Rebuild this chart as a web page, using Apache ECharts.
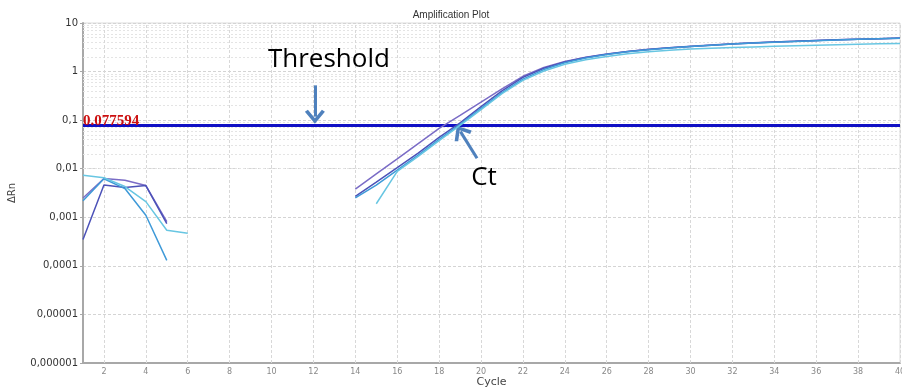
<!DOCTYPE html>
<html><head><meta charset="utf-8">
<script src="https://cdn.jsdelivr.net/npm/echarts@6/dist/echarts.min.js"></script>
<style>html,body{margin:0;padding:0;background:#fff}#c{width:902px;height:387px}</style>
</head><body><div id="c"></div>
<script>
const cycles = [1,2,3,4,5,6,7,8,9,10,11,12,13,14,15,16,17,18,19,20,21,22,23,24,25,26,27,28,29,30,31,32,33,34,35,36,37,38,39,40];
const wellA = [0.0025,0.0063,0.0058,0.0045,0.00081,null,null,null,null,null,null,null,null,0.0038,0.0078,0.016,0.033,0.068,0.125,0.235,0.44,0.80,1.22,1.62,1.98,2.3,2.6,2.87,3.1,3.32,3.52,3.72,3.9,4.06,4.2,4.35,4.5,4.63,4.76,4.88];
const wellB = [0.00035,0.0046,0.0041,0.0045,0.00074,null,null,null,null,null,null,null,null,0.0027,0.0053,0.0105,0.021,0.044,0.088,0.19,0.4,0.76,1.17,1.58,1.95,2.28,2.58,2.85,3.08,3.3,3.5,3.7,3.88,4.05,4.2,4.35,4.5,4.63,4.76,4.9];
const wellC = [0.0022,0.0062,0.0039,0.0011,0.00013,null,null,null,null,null,null,null,null,0.0025,0.0046,0.0094,0.019,0.04,0.082,0.175,0.37,0.7,1.1,1.52,1.9,2.24,2.55,2.82,3.06,3.28,3.48,3.68,3.86,4.03,4.18,4.33,4.48,4.62,4.75,4.88];
const wellD = [0.0073,0.0065,0.0043,0.0021,0.00054,0.00047,null,null,null,null,null,null,null,null,0.0019,0.0088,0.018,0.038,0.078,0.165,0.35,0.66,1.03,1.42,1.75,2.05,2.33,2.57,2.75,2.9,3.02,3.12,3.22,3.31,3.4,3.48,3.56,3.64,3.72,3.8];
const threshold = 0.077594;
const xTicks = [2,4,6,8,10,12,14,16,18,20,22,24,26,28,30,32,34,36,38,40];
const yTickLabels = ['0,000001','0,00001','0,0001','0,001','0,01','0,1','1','10'];
const thresholdArrow = [[12.07,0.52],[12.07,0.118]];
const ctArrow = [[19.81,0.0164],[19.02,0.058]];
const thresholdText = [12.74,1.8];
const ctText = [20.14,0.0067];

const wells = [
  {name:'A', data:wellA, color:'#7a6cc6'},
  {name:'B', data:wellB, color:'#4c52b8'},
  {name:'C', data:wellC, color:'#3f9ad8'},
  {name:'D', data:wellD, color:'#68c6e2'}
];

// log minor grid (styling only)
const minorVals = [];
for (let e=-6;e<=0;e++) for (let m=2;m<=9;m++) minorVals.push(m*Math.pow(10,e));

const chevron = 'path://M0,12 L10,0 L20,12 L17,14 L10,5.5 L3,14 Z';

const series = wells.map(w => ({
  name:w.name, type:'line', data:cycles.map((c,i)=>[c,w.data[i]]),
  showSymbol:false, connectNulls:false, lineStyle:{color:w.color,width:1.5},
  itemStyle:{color:w.color}, z:5, silent:true
}));

series.unshift({
  name:'grid', type:'line', data:[], silent:true, z:1,
  markLine:{silent:true, animation:false, symbol:['none','none'], label:{show:false},
    data:minorVals.map(v=>({yAxis:v, lineStyle:{color:'#e4e4e4', type:[2,2], width:1}}))
      .concat(xTicks.map(v=>({xAxis:v, lineStyle:{color:'#d8d8d8', type:[3,2], width:1}})))}
});

series.push({
  name:'threshold', type:'line', data:[], silent:true, z:6,
  markLine:{silent:true, symbol:['none','none'], animation:false,
    data:[{yAxis:threshold, lineStyle:{color:'#1010c4',width:3,type:'solid'},
      label:{show:true, position:'insideStartTop', distance:[0,-4], formatter:()=>String(threshold),
        color:'#cc1010', fontFamily:'Liberation Serif', fontWeight:'bold', fontSize:15}}]}
});
series.push({
  name:'annot', type:'line', data:[], silent:true, z:7,
  markLine:{silent:true, animation:false, symbol:['none',chevron], symbolSize:[20,14],
    lineStyle:{color:'#4f81bd',width:3,type:'solid'}, label:{show:false},
    data:[
      [{coord:thresholdArrow[0]},{coord:thresholdArrow[1]}],
      [{coord:ctArrow[0]},{coord:ctArrow[1]}]
    ]},
  markPoint:{silent:true, animation:false, symbol:'circle', symbolSize:0,
    label:{show:true, color:'#000', fontFamily:'Open Sans', fontSize:26, position:'inside'},
    data:[
      {coord:thresholdText, label:{formatter:'Threshold'}},
      {coord:ctText, label:{formatter:'Ct'}}
    ]}
});

const chart = echarts.init(document.getElementById('c'), null, {renderer:'canvas'});
chart.setOption({
  animation:false,
  backgroundColor:'#fff',
  title:{text:'Amplification Plot', left:'center', top:5,
    textStyle:{fontSize:10, fontWeight:'normal', color:'#333', fontFamily:'Liberation Sans'}},
  grid:{left:83, right:2, top:23, bottom:24, show:true, borderColor:'#dcdcdc', borderWidth:1,
    containLabel:false, outerBoundsMode:'none'},
  xAxis:{type:'value', min:1, max:40, name:'Cycle', nameLocation:'middle', nameGap:14,
    nameMoveOverlap:false,
    nameTextStyle:{color:'#444', fontSize:11, fontFamily:'DejaVu Sans', verticalAlign:'top'},
    axisLine:{show:true, onZero:false, lineStyle:{color:'#a8a8a8', width:2}},
    axisTick:{show:false, customValues:xTicks},
    axisLabel:{customValues:xTicks, color:'#888', fontSize:8, fontFamily:'DejaVu Sans', margin:5, showMaxLabel:true},
    splitLine:{show:false}},
  yAxis:{type:'log', logBase:10, min:0.000001, max:10, interval:1,
    name:'ΔRn', nameLocation:'middle', nameGap:66, nameRotate:90, nameMoveOverlap:false,
    nameTextStyle:{color:'#444', fontSize:10, fontFamily:'DejaVu Sans'},
    axisLine:{show:true, lineStyle:{color:'#a8a8a8', width:2}},
    axisTick:{show:true, length:3, lineStyle:{color:'#a8a8a8'}},
    axisLabel:{color:'#333', fontSize:10, fontFamily:'DejaVu Sans', margin:5,
      formatter:v=>yTickLabels[Math.round(Math.log10(v))+6]},
    splitLine:{show:true, lineStyle:{color:'#d4d4d4', type:[3,2]}}},
  series:series
});
</script></body></html>
